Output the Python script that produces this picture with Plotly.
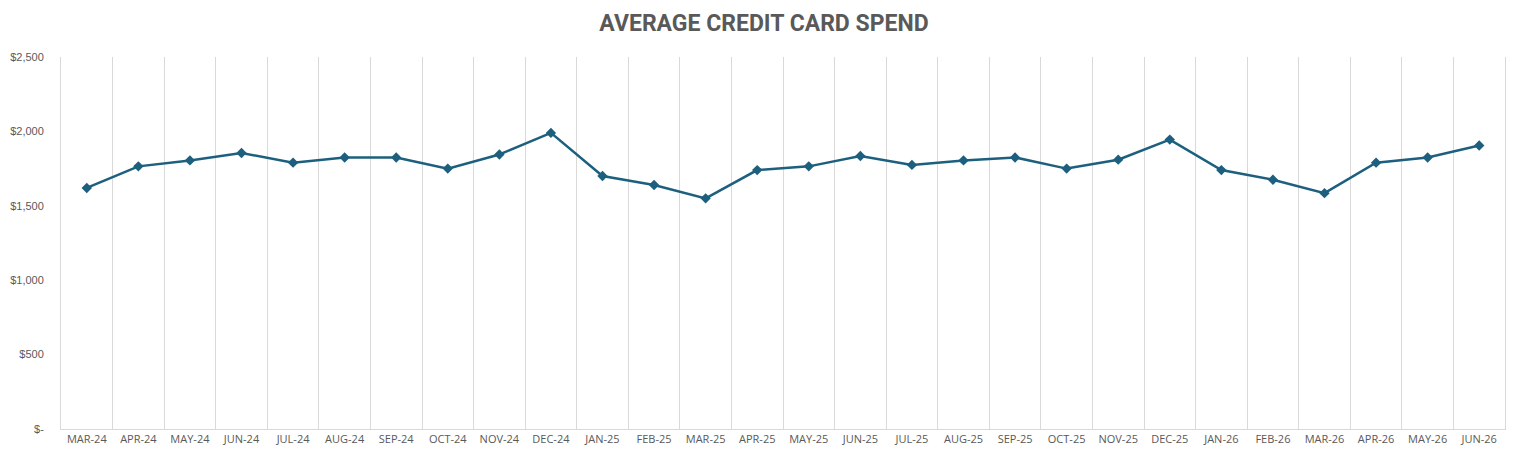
import plotly.graph_objects as go

# Months on the x axis
months = [
    "MAR-24", "APR-24", "MAY-24", "JUN-24", "JUL-24", "AUG-24", "SEP-24",
    "OCT-24", "NOV-24", "DEC-24", "JAN-25", "FEB-25", "MAR-25", "APR-25",
    "MAY-25", "JUN-25", "JUL-25", "AUG-25", "SEP-25", "OCT-25", "NOV-25",
    "DEC-25", "JAN-26", "FEB-26", "MAR-26", "APR-26", "MAY-26", "JUN-26",
]

# Average spend per month ($)
avg_spend = [
    1620, 1765, 1805, 1855, 1790, 1825, 1825,
    1750, 1845, 1990, 1700, 1640, 1550, 1740,
    1765, 1835, 1775, 1805, 1825, 1750, 1810,
    1945, 1740, 1675, 1585, 1790, 1825, 1905,
]

# y axis ticks (accounting style, zero shown as "$-")
y_tick_vals = [0, 500, 1000, 1500, 2000, 2500]
y_tick_text = ["$-", "$500", "$1,000", "$1,500", "$2,000", "$2,500"]

line_color = "#1d5f7e"
grey = "#595959"
light_grey = "#d9d9d9"

fig = go.Figure()
fig.add_trace(go.Scatter(
    x=months,
    y=avg_spend,
    mode="lines+markers",
    line=dict(color=line_color, width=2.5),
    marker=dict(symbol="diamond", size=8, color=line_color),
    showlegend=False,
))

# page body has an 8px margin, so the figure is sized to fit inside the window
fig.update_layout(
    width=1512,
    height=451,
    paper_bgcolor="white",
    plot_bgcolor="white",
    margin=dict(l=53, r=15, t=49, b=30, autoexpand=False),
    title=dict(
        text="AVERAGE CREDIT CARD SPEND",
        x=0.5, xanchor="center",
        yref="container", y=1 - 15 / 451, yanchor="middle",
        font=dict(family="Roboto", size=23, color=grey, weight="bold"),
    ),
)

fig.update_xaxes(
    type="category",
    range=[-0.5, len(months) - 0.5],
    automargin=False,
    tickson="boundaries",
    showgrid=True,
    gridcolor=light_grey,
    gridwidth=1,
    ticks="",
    showline=True,
    linecolor=light_grey,
    tickfont=dict(family="Open Sans", size=11, color=grey),
    tickangle=0,
)

fig.update_yaxes(
    range=[0, 2500],
    automargin=False,
    tickvals=y_tick_vals,
    ticktext=y_tick_text,
    showgrid=False,
    zeroline=False,
    showline=True,
    mirror=True,
    linecolor=light_grey,
    ticks="",
    ticklabelstandoff=14,
    tickfont=dict(family="Liberation Sans", size=11, color=grey),
)

fig.write_html("out.html")
